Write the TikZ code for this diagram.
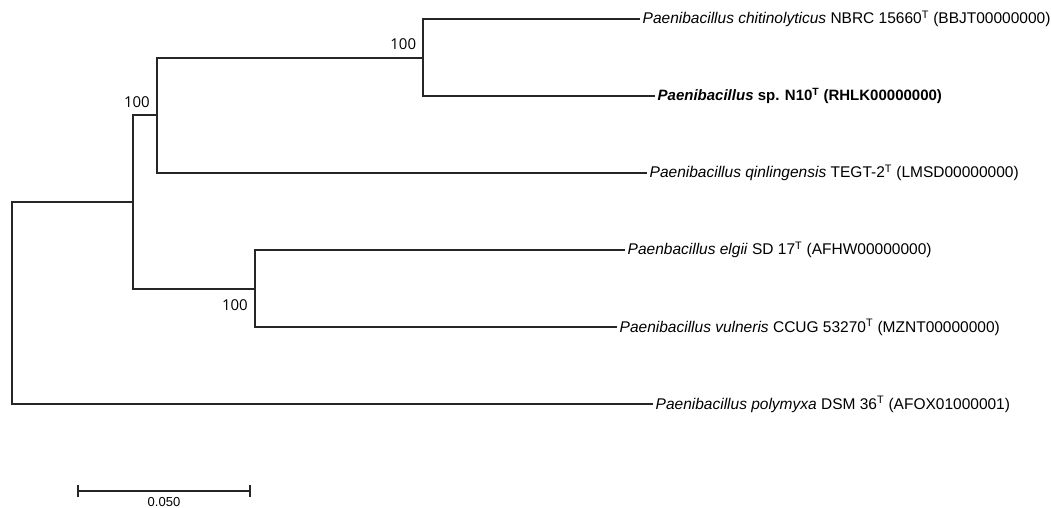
\documentclass[tikz,border=0pt]{standalone}
\usepackage{fontspec}
\setmainfont{Liberation Sans}
\newfontfamily\bootfont{Open Sans}
\usetikzlibrary{positioning,arrows.meta}
\tikzset{
  branch/.style={draw=black!85, line width=1.8pt},
  leaf/.style={
    anchor=west,
    inner xsep=2.5pt,
    inner ysep=0pt,
    font=\fontsize{15.5}{18}\selectfont},
  boot/.style={inner sep=0pt, font=\bootfont\fontsize{15}{17}\selectfont},
  scalebar/.style={draw=black!85, line width=1.8pt, {Bar[width=12pt]}-{Bar[width=12pt]}},
}
\begin{document}
\begin{tikzpicture}[x=1pt, y=-1pt]
  \useasboundingbox (0,0) rectangle (1051,508);
  % inner nodes
  \coordinate (root) at (12,303);
  \coordinate (nA) at (133,201.7);
  \coordinate (nB) at (157,115.3);
  \coordinate (nC) at (423.3,57.7);
  \coordinate (nD) at (255,288.7);
  % leaves
  \node[leaf] (leaf1) at (640,19) {\textit{Paenibacillus chitinolyticus} NBRC 15660\textsuperscript{T} (BBJT00000000)};
  \node[leaf, font=\fontsize{15}{18}\selectfont\bfseries] (leaf2) at (655,96) {\textit{Paenibacillus} sp. N10\textsuperscript{T} (RHLK00000000)};
  \node[leaf] (leaf3) at (647,172.7) {\textit{Paenibacillus qinlingensis} TEGT-2\textsuperscript{T} (LMSD00000000)};
  \node[leaf] (leaf4) at (625,250) {\textit{Paenbacillus elgii} SD 17\textsuperscript{T} (AFHW00000000)};
  \node[leaf] (leaf5) at (617,327.3) {\textit{Paenibacillus vulneris} CCUG 53270\textsuperscript{T} (MZNT00000000)};
  \node[leaf] (leaf6) at (653,404.3) {\textit{Paenibacillus polymyxa} DSM 36\textsuperscript{T} (AFOX01000001)};
  % branches
  \path[branch] (root) |- (nA);
  \path[branch] (root) |- (leaf6.west);
  \path[branch] (nA) |- (nB);
  \path[branch] (nA) |- (nD);
  \path[branch] (nB) |- (nC);
  \path[branch] (nB) |- (leaf3.west);
  \path[branch] (nC) |- (leaf1.west);
  \path[branch] (nC) |- (leaf2.west);
  \path[branch] (nD) |- (leaf4.west);
  \path[branch] (nD) |- (leaf5.west);
  % bootstrap values
  \node[boot, above left=7.6pt and 7pt of nC] (bsC) {100};
  \node[boot, above left=7.6pt and 7pt of nB] (bsB) {100};
  \node[boot, below left=10.6pt and 7pt of nD] (bsD) {100};
  % scale
  \coordinate (sb1) at (77,491);
  \coordinate (sb2) at (251,491);
  \coordinate (sbmid) at (164,491);
  \path[scalebar] (sb1) -- (sb2);
  \node[font=\fontsize{13}{15}\selectfont, inner sep=0pt, below=6pt of sbmid] (sblabel) {0.050};
\end{tikzpicture}
\end{document}
